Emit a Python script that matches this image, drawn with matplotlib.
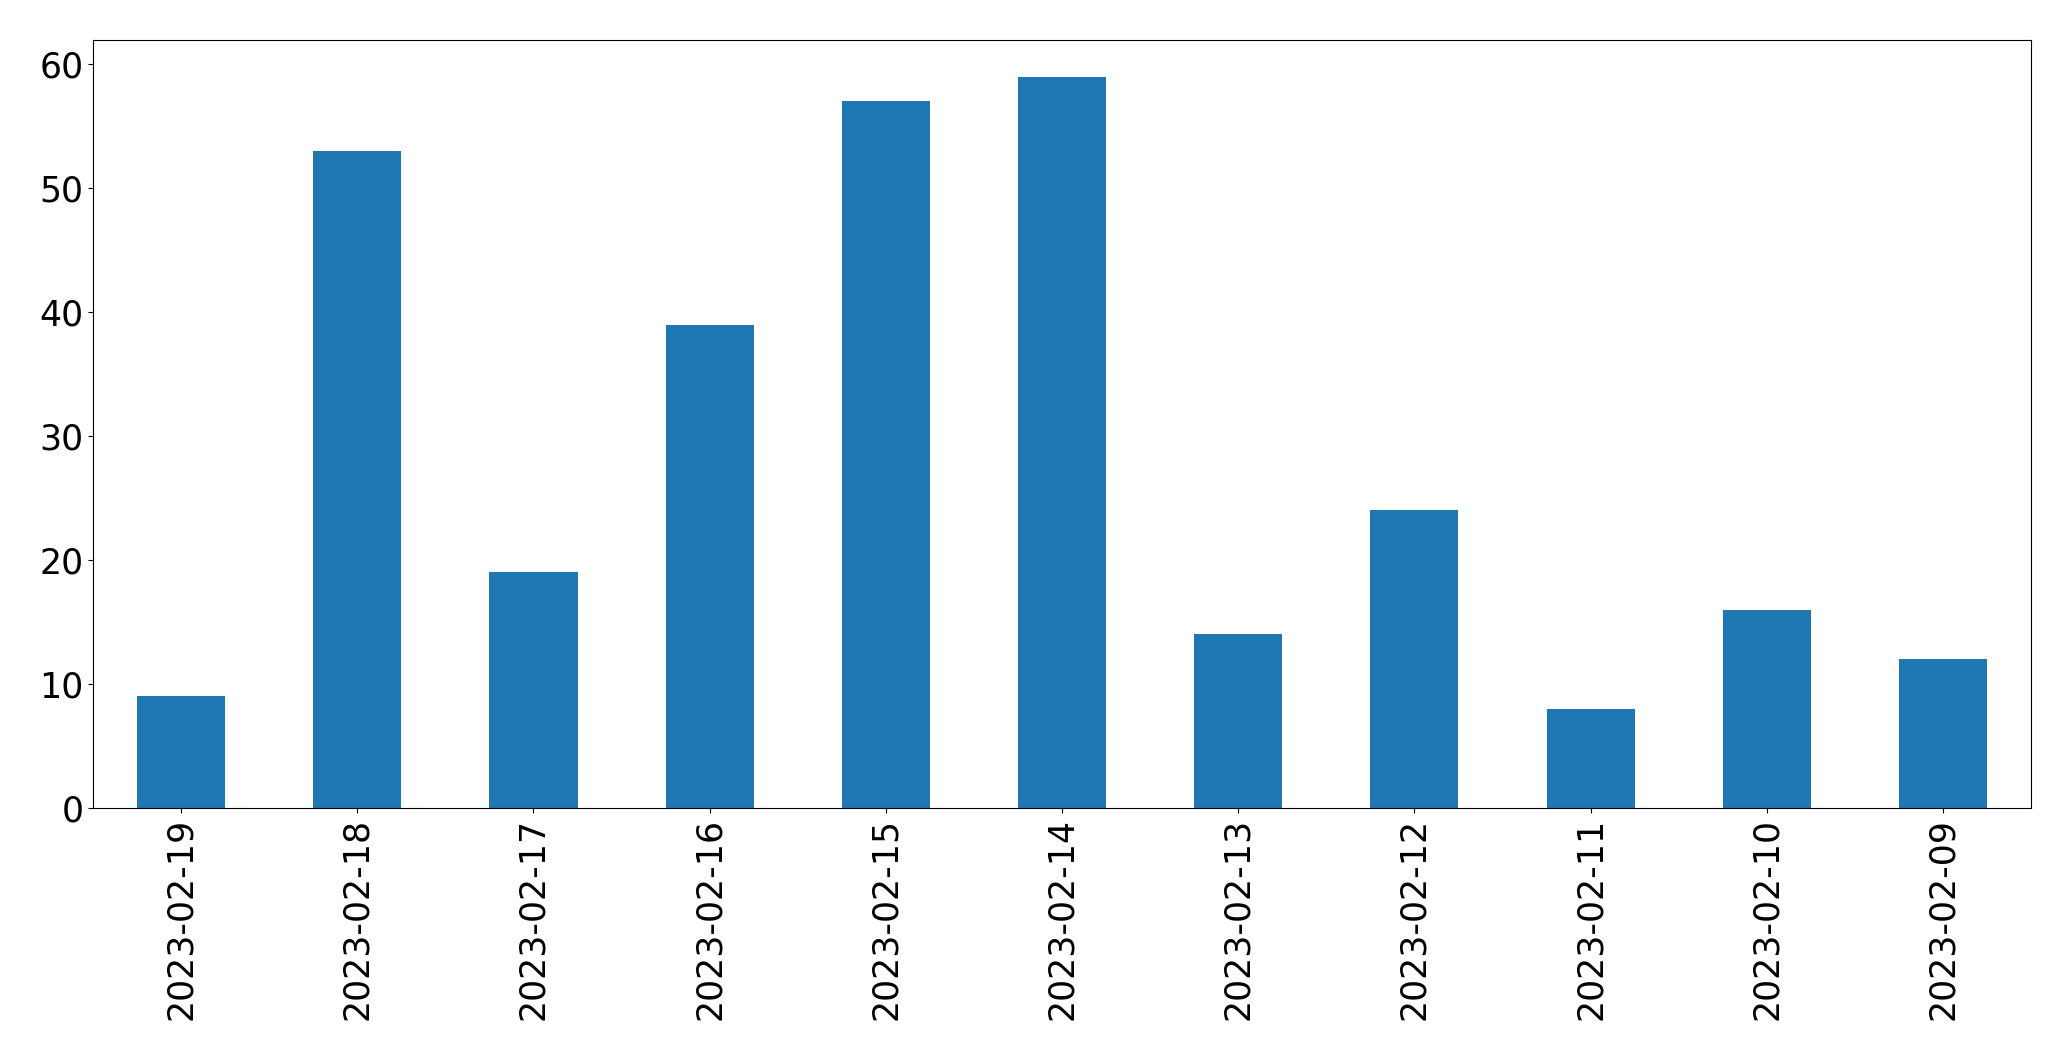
import matplotlib
matplotlib.use('Agg')
import matplotlib.pyplot as plt
import pandas as pd

dates = ['2023-02-19', '2023-02-18', '2023-02-17', '2023-02-16', '2023-02-15', '2023-02-14',
         '2023-02-13', '2023-02-12', '2023-02-11', '2023-02-10', '2023-02-09']
counts = [9, 53, 19, 39, 57, 59, 14, 24, 8, 16, 12]

s = pd.Series(counts, index=dates)

fig = plt.figure(figsize=(20.71, 10.61), dpi=100)
ax = fig.add_axes([93 / 2071, 1 - 808 / 1061, (2031 - 93) / 2071, (808 - 40) / 1061])
s.plot(kind='bar', ax=ax, color='#1f77b4')
ax.tick_params(axis='both', labelsize=25)
fig.savefig('out.png', dpi=100)
